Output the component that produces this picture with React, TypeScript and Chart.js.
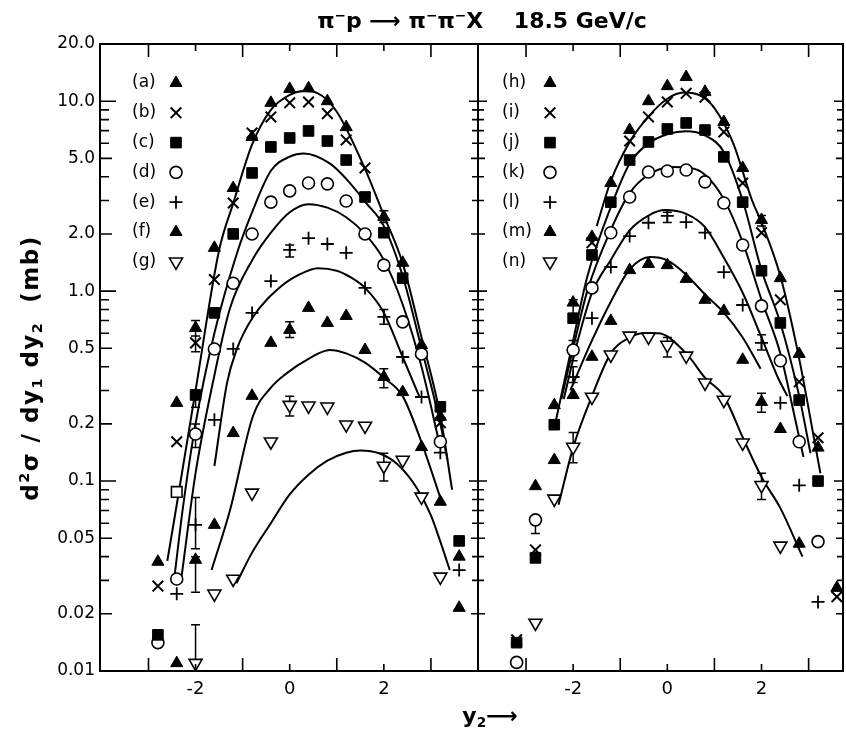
import React, { useEffect, useRef } from "react";
import { Chart, registerables } from "chart.js";
Chart.register(...registerables);

const W = 846;
const H = 732;
const FONT = '"DejaVu Sans", sans-serif';

// ---------- axes ----------
const Y_MIN = 0.01;
const Y_MAX = 20;
const yTickValues = [0.01, 0.02, 0.05, 0.1, 0.2, 0.5, 1, 2, 5, 10, 20];
const yTickLabels = ["0.01", "0.02", "0.05", "0.1", "0.2", "0.5", "1.0", "2.0", "5.0", "10.0", "20.0"];
const xTickValues = [-2, 0, 2];
const xTickLabels = ["-2", "0", "2"];
const xTickMarks = [-3, -2, -1, 0, 1, 2, 3];
const leftRange = [-4.03, 4.0];
const rightRange = [-4.02, 3.73];

// ---------- left panel : measured points ----------
const aX = [-2.8, -2.4, -2.0, -1.6, -1.2, -0.8, -0.4, 0, 0.4, 0.8, 1.2, 2.0, 2.4, 2.8, 3.2, 3.6];
const aY = [0.0376, 0.258, 0.64, 1.69, 3.49, 6.48, 9.8, 11.6, 11.7, 10.0, 7.3, 2.46, 1.41, 0.52, 0.218, 0.04];
const bX = [-2.8, -2.4, -2.0, -1.6, -1.2, -0.8, -0.4, 0, 0.4, 0.8, 1.2, 1.6, 3.2];
const bY = [0.028, 0.161, 0.534, 1.15, 2.91, 6.8, 8.26, 9.8, 9.9, 8.6, 6.25, 4.45, 0.203];
const cX = [-2.8, -2.0, -1.6, -1.2, -0.8, -0.4, 0, 0.4, 0.8, 1.2, 1.6, 2.0, 2.4, 3.2, 3.6];
const cY = [0.0155, 0.284, 0.768, 2.0, 4.19, 5.74, 6.4, 6.97, 6.17, 4.9, 3.13, 2.03, 1.17, 0.246, 0.0484];
const cOpenX = [-2.4];
const cOpenY = [0.0877];
const dX = [-2.8, -2.4, -2.0, -1.6, -1.2, -0.8, -0.4, 0, 0.4, 0.8, 1.2, 1.6, 2.0, 2.4, 2.8, 3.2];
const dY = [0.0141, 0.0305, 0.177, 0.496, 1.1, 2.0, 2.94, 3.37, 3.71, 3.67, 2.98, 2.0, 1.37, 0.689, 0.467, 0.161];
const eX = [-2.4, -2.0, -1.6, -1.2, -0.8, -0.4, 0, 0.4, 0.8, 1.2, 1.6, 2.0, 2.4, 2.8, 3.2, 3.6];
const eY = [0.0255, 0.0588, 0.21, 0.496, 0.768, 1.13, 1.65, 1.9, 1.77, 1.59, 1.04, 0.732, 0.45, 0.277, 0.141, 0.034];
const fX = [-2.4, -2.0, -1.6, -1.2, -0.8, -0.4, 0, 0.4, 0.8, 1.2, 1.6, 2.0, 2.4, 2.8, 3.2, 3.6];
const fY = [0.011, 0.0385, 0.0588, 0.179, 0.281, 0.534, 0.625, 0.816, 0.68, 0.74, 0.49, 0.353, 0.294, 0.151, 0.0778, 0.0215];
const gX = [-2.0, -1.6, -1.2, -0.8, -0.4, 0, 0.4, 0.8, 1.2, 1.6, 2.0, 2.4, 2.8, 3.2];
const gY = [0.011, 0.0255, 0.0305, 0.0867, 0.161, 0.251, 0.249, 0.246, 0.198, 0.195, 0.12, 0.129, 0.0826, 0.0313];

const leftErrX = [-2.0, -2.0, -2.0, -2.0, -2.0, -2.0, -2.0, 0, 0, 0, 2.0, 2.0, 2.0, 2.0];
const leftErrLo = [0.58, 0.48, 0.245, 0.15, 0.044, 0.026, 0.011, 1.51, 0.57, 0.22, 0.67, 0.31, 0.1, 2.3];
const leftErrHi = [0.7, 0.58, 0.3, 0.2, 0.082, 0.04, 0.0175, 1.75, 0.69, 0.28, 0.8, 0.39, 0.14, 2.65];

// ---------- left panel : curves ----------
const LA_X = [-2.6, -2.4, -2.0, -1.5, -1.2, -0.8, -0.4, 0, 0.3, 0.6, 1.0, 1.6, 2.0, 2.4, 2.8, 3.2, 3.45];
const LA_Y = [0.038, 0.075, 0.3, 1.64, 2.9, 5.9, 9.0, 10.8, 11.3, 11.0, 8.8, 4.4, 2.5, 1.4, 0.57, 0.22, 0.09];
const LB_X = [-2.45, -2.27, -2.0, -1.6, -1.1, -0.8, -0.4, 0, 0.3, 0.85, 1.2, 1.63, 2.0, 2.4, 2.8, 3.2, 3.35];
const LB_Y = [0.031, 0.072, 0.2, 0.6, 1.64, 2.6, 4.3, 5.1, 5.3, 4.7, 3.9, 2.9, 2.2, 1.2, 0.5, 0.2, 0.13];
const LC_X = [-2.3, -2.0, -1.6, -1.27, -0.8, -0.42, 0, 0.4, 0.8, 1.2, 1.6, 2.0, 2.4, 2.8, 3.2];
const LC_Y = [0.031, 0.11, 0.36, 0.81, 1.45, 2.0, 2.6, 2.87, 2.75, 2.45, 2.0, 1.46, 0.85, 0.4, 0.15];
const LD_X = [-1.6, -1.33, -1.13, -0.78, -0.2, 0.2, 0.6, 1.0, 1.3, 1.6, 2.0, 2.4, 2.75];
const LD_Y = [0.12, 0.33, 0.49, 0.73, 1.05, 1.22, 1.32, 1.28, 1.18, 1.04, 0.77, 0.45, 0.28];
const LE_X = [-1.66, -1.27, -0.78, -0.4, -0.06, 0.4, 0.85, 1.2, 1.6, 2.0, 2.4, 2.8, 3.25];
const LE_Y = [0.034, 0.07, 0.22, 0.31, 0.37, 0.44, 0.49, 0.47, 0.42, 0.35, 0.28, 0.16, 0.075];
const LF_X = [-1.13, -0.8, -0.4, 0, 0.4, 0.8, 1.2, 1.5, 1.9, 2.3, 2.7, 3.0, 3.2, 3.4];
const LF_Y = [0.029, 0.042, 0.06, 0.085, 0.108, 0.128, 0.141, 0.145, 0.14, 0.122, 0.092, 0.066, 0.048, 0.034];

// ---------- right panel : measured points ----------
const hX = [-2.8, -2.4, -2.0, -1.6, -1.2, -0.8, -0.4, 0, 0.4, 0.8, 1.2, 1.6, 2.0, 2.4, 2.8, 3.2, 3.6];
const hY = [0.094, 0.251, 0.87, 1.93, 3.71, 7.05, 10.0, 12.0, 13.4, 11.2, 7.77, 4.45, 2.37, 1.17, 0.467, 0.15, 0.0274];
const iX = [-3.2, -2.8, -1.6, -0.8, -0.4, 0, 0.4, 0.8, 1.2, 1.6, 2.0, 2.4, 2.8, 3.2, 3.6];
const iY = [0.0146, 0.0434, 1.8, 6.17, 8.26, 9.9, 11.0, 10.5, 6.89, 3.71, 2.03, 0.9, 0.333, 0.169, 0.0246];
const jX = [-3.2, -2.8, -2.4, -2.0, -1.6, -1.2, -0.8, -0.4, 0, 0.4, 0.8, 1.2, 1.6, 2.0, 2.4, 2.8, 3.2];
const jY = [0.0141, 0.0394, 0.198, 0.72, 1.55, 2.94, 4.9, 6.1, 7.14, 7.68, 7.05, 5.09, 2.94, 1.28, 0.68, 0.267, 0.1];
const kX = [-3.2, -2.8, -2.0, -1.6, -1.2, -0.8, -0.4, 0, 0.4, 0.8, 1.2, 1.6, 2.0, 2.4, 2.8, 3.2];
const kY = [0.0111, 0.0625, 0.49, 1.04, 2.03, 3.13, 4.24, 4.29, 4.34, 3.76, 2.91, 1.75, 0.836, 0.43, 0.161, 0.048];
const lX = [-2.0, -1.6, -1.2, -0.8, -0.4, 0, 0.4, 0.8, 1.2, 1.6, 2.0, 2.4, 2.8, 3.2];
const lY = [0.353, 0.72, 1.34, 1.95, 2.29, 2.49, 2.31, 2.03, 1.26, 0.845, 0.534, 0.258, 0.095, 0.0231];
const mX = [-2.4, -2.0, -1.6, -1.2, -0.8, -0.4, 0, 0.4, 0.8, 1.2, 1.6, 2.0, 2.4, 2.8];
const mY = [0.129, 0.284, 0.451, 0.697, 1.29, 1.39, 1.37, 1.16, 0.9, 0.787, 0.435, 0.261, 0.188, 0.0468];
const nX = [-2.8, -2.4, -2.0, -1.6, -1.2, -0.8, -0.4, 0, 0.4, 0.8, 1.2, 1.6, 2.0, 2.4];
const nY = [0.0179, 0.0806, 0.151, 0.277, 0.462, 0.581, 0.574, 0.52, 0.456, 0.329, 0.267, 0.159, 0.095, 0.0456];

const rightErrX = [-2.8, -2.0, -2.0, -2.0, -2.0, 0, 0, 2.0, 2.0, 2.0, 2.0];
const rightErrLo = [0.053, 0.69, 0.43, 0.33, 0.125, 2.3, 0.45, 2.2, 0.49, 0.23, 0.08];
const rightErrHi = [0.063, 0.9, 0.55, 0.4, 0.18, 2.6, 0.57, 2.5, 0.59, 0.29, 0.11];

// ---------- right panel : curves ----------
const RA_X = [-1.5, -1.2, -0.8, -0.42, 0, 0.35, 0.7, 1.0, 1.4, 1.8, 2.0, 2.4, 2.8, 3.15, 3.25];
const RA_Y = [2.2, 3.8, 6.1, 8.2, 10.3, 11.1, 10.7, 9.2, 6.0, 3.0, 2.3, 1.2, 0.44, 0.15, 0.11];
const RB_X = [-2.4, -2.0, -1.7, -1.2, -0.8, -0.4, 0, 0.4, 0.8, 1.2, 1.6, 2.0, 2.4, 2.8, 3.04];
const RB_Y = [0.19, 0.55, 1.19, 2.77, 4.7, 6.0, 6.7, 6.95, 6.6, 5.4, 3.0, 1.29, 0.68, 0.28, 0.14];
const RC_X = [-2.25, -2.0, -1.7, -1.2, -0.8, -0.4, 0.1, 0.5, 0.8, 1.2, 1.6, 2.0, 2.4, 2.7, 2.89];
const RC_Y = [0.27, 0.5, 1.0, 2.1, 3.28, 4.1, 4.5, 4.45, 4.1, 3.05, 1.81, 0.9, 0.47, 0.22, 0.134];
const RD_X = [-2.2, -1.9, -1.6, -1.2, -0.8, -0.4, -0.05, 0.4, 0.8, 1.2, 1.6, 2.0, 2.35, 2.55];
const RD_Y = [0.27, 0.55, 0.98, 1.46, 2.09, 2.5, 2.67, 2.55, 2.17, 1.5, 0.98, 0.57, 0.35, 0.28];
const RE_X = [-2.06, -1.6, -1.2, -0.8, -0.36, 0, 0.4, 0.8, 1.2, 1.6, 1.98];
const RE_Y = [0.3, 0.55, 0.88, 1.3, 1.51, 1.45, 1.22, 0.96, 0.77, 0.57, 0.39];
const RF_X = [-2.31, -2.0, -1.6, -1.2, -0.8, -0.5, -0.2, 0.4, 0.8, 1.2, 1.6, 2.0, 2.4, 2.87];
const RF_Y = [0.075, 0.15, 0.28, 0.47, 0.57, 0.6, 0.6, 0.47, 0.35, 0.28, 0.17, 0.105, 0.072, 0.04];

// ---------- legend text ----------
const leftLegend = ["(a)", "(b)", "(c)", "(d)", "(e)", "(f)", "(g)"];
const rightLegend = ["(h)", "(i)", "(j)", "(k)", "(l)", "(m)", "(n)"];

type Sym = "tri" | "x" | "sq" | "sqOpen" | "circ" | "plus" | "triDown";
const leftSyms: Sym[] = ["tri", "x", "sq", "circ", "plus", "tri", "triDown"];
const rightSyms: Sym[] = ["tri", "x", "sq", "circ", "plus", "tri", "triDown"];

const pts = (xs: number[], ys: number[]) => xs.map((x, i) => ({ x, y: ys[i] }));

function symProps(s: Sym) {
  const common: any = { showLine: false, pointBorderColor: "#000", borderColor: "#000", pointHoverRadius: 0 };
  switch (s) {
    case "tri":
      return { ...common, pointStyle: "triangle", pointRadius: 7, pointRotation: 0, pointBackgroundColor: "#000", pointBorderWidth: 1 };
    case "triDown":
      return { ...common, pointStyle: "triangle", pointRadius: 7.5, pointRotation: 180, pointBackgroundColor: "#fff", pointBorderWidth: 1.6 };
    case "x":
      return { ...common, pointStyle: "crossRot", pointRadius: 7.5, pointBorderWidth: 2 };
    case "plus":
      return { ...common, pointStyle: "cross", pointRadius: 6.5, pointBorderWidth: 1.8 };
    case "sq":
      return { ...common, pointStyle: "rect", pointRadius: 7.5, pointBackgroundColor: "#000", pointBorderWidth: 1 };
    case "sqOpen":
      return { ...common, pointStyle: "rect", pointRadius: 7.5, pointBackgroundColor: "#fff", pointBorderWidth: 1.6 };
    case "circ":
    default:
      return { ...common, pointStyle: "circle", pointRadius: 6, pointBackgroundColor: "#fff", pointBorderWidth: 1.6 };
  }
}

function drawSym(ctx: CanvasRenderingContext2D, s: Sym, x: number, y: number) {
  ctx.save();
  ctx.strokeStyle = "#000";
  ctx.fillStyle = "#000";
  ctx.beginPath();
  if (s === "tri" || s === "triDown") {
    const r = s === "tri" ? 7 : 7.5;
    const off = s === "tri" ? 0 : Math.PI;
    for (let k = 0; k < 3; k++) {
      const a = off + (k * 2 * Math.PI) / 3;
      const px = x + Math.sin(a) * r;
      const py = y - Math.cos(a) * r;
      if (k === 0) ctx.moveTo(px, py);
      else ctx.lineTo(px, py);
    }
    ctx.closePath();
    if (s === "tri") {
      ctx.fill();
      ctx.lineWidth = 1;
    } else {
      ctx.fillStyle = "#fff";
      ctx.fill();
      ctx.lineWidth = 1.6;
    }
    ctx.stroke();
  } else if (s === "x") {
    const d = 7.5 * Math.SQRT1_2;
    ctx.moveTo(x - d, y - d);
    ctx.lineTo(x + d, y + d);
    ctx.moveTo(x + d, y - d);
    ctx.lineTo(x - d, y + d);
    ctx.lineWidth = 2;
    ctx.stroke();
  } else if (s === "plus") {
    ctx.moveTo(x - 6.5, y);
    ctx.lineTo(x + 6.5, y);
    ctx.moveTo(x, y - 6.5);
    ctx.lineTo(x, y + 6.5);
    ctx.lineWidth = 1.8;
    ctx.stroke();
  } else if (s === "sq" || s === "sqOpen") {
    const h = 7.5 * Math.SQRT1_2;
    ctx.rect(x - h, y - h, 2 * h, 2 * h);
    if (s === "sq") ctx.fill();
    ctx.lineWidth = 1;
    ctx.stroke();
  } else {
    ctx.arc(x, y, 6, 0, Math.PI * 2);
    ctx.fillStyle = "#fff";
    ctx.fill();
    ctx.lineWidth = 1.6;
    ctx.stroke();
  }
  ctx.restore();
}

function curve(xs: number[], ys: number[]) {
  return {
    data: pts(xs, ys),
    showLine: true,
    pointRadius: 0,
    pointHoverRadius: 0,
    borderColor: "#000",
    borderWidth: 2,
    cubicInterpolationMode: "monotone",
    fill: false,
  };
}

function makePlugins(side: "left" | "right") {
  const errX = side === "left" ? leftErrX : rightErrX;
  const errLo = side === "left" ? leftErrLo : rightErrLo;
  const errHi = side === "left" ? leftErrHi : rightErrHi;
  const labels = side === "left" ? leftLegend : rightLegend;
  const syms = side === "left" ? leftSyms : rightSyms;
  const textOff = side === "left" ? 32 : 24;
  const symOff = side === "left" ? 76 : 72;

  const errPlugin = {
    id: "errbars-" + side,
    beforeDatasetsDraw(chart: any) {
      const { ctx } = chart;
      const xs = chart.scales.x;
      const ys = chart.scales.y;
      ctx.save();
      ctx.strokeStyle = "#000";
      ctx.lineWidth = 1.5;
      ctx.beginPath();
      errX.forEach((ex, i) => {
        const px = xs.getPixelForValue(ex);
        const p1 = ys.getPixelForValue(errLo[i]);
        const p2 = ys.getPixelForValue(errHi[i]);
        ctx.moveTo(px, p1);
        ctx.lineTo(px, p2);
        ctx.moveTo(px - 4.5, p1);
        ctx.lineTo(px + 4.5, p1);
        ctx.moveTo(px - 4.5, p2);
        ctx.lineTo(px + 4.5, p2);
      });
      ctx.stroke();
      ctx.restore();
    },
  };

  const framePlugin = {
    id: "frame-" + side,
    afterDraw(chart: any) {
      const { ctx, chartArea } = chart;
      const { left, right, top, bottom } = chartArea;
      const xs = chart.scales.x;
      const ys = chart.scales.y;
      ctx.save();
      ctx.strokeStyle = "#000";
      ctx.lineWidth = 2;
      ctx.strokeRect(left, top, right - left, bottom - top);
      ctx.lineWidth = 1.6;
      ctx.beginPath();
      xTickMarks.forEach((v) => {
        const px = xs.getPixelForValue(v);
        const len = Math.abs(v) % 2 === 1 ? 13 : 7;
        ctx.moveTo(px, bottom);
        ctx.lineTo(px, bottom - len);
        ctx.moveTo(px, top);
        ctx.lineTo(px, top + len);
      });
      for (let e = -2; e <= 1; e++) {
        for (let m = 1; m <= 9; m++) {
          const v = m * Math.pow(10, e);
          if (v < Y_MIN * 0.999 || v > Y_MAX * 1.001) continue;
          const py = ys.getPixelForValue(v);
          const kind = m === 1 ? 0 : m === 2 || m === 5 ? 1 : 2;
          const lenL = side === "left" ? [16, 12, 9][kind] : [9, 7, 6][kind];
          const lenR = [9, 7, 6][kind];
          ctx.moveTo(left, py);
          ctx.lineTo(left + lenL, py);
          ctx.moveTo(right, py);
          ctx.lineTo(right - lenR, py);
        }
      }
      ctx.stroke();
      ctx.fillStyle = "#000";
      ctx.font = "17px " + FONT;
      ctx.textAlign = "left";
      ctx.textBaseline = "middle";
      labels.forEach((lab, i) => {
        const yy = top + 39 + i * 29.8;
        ctx.fillText(lab, left + textOff, yy);
        drawSym(ctx, syms[i], left + symOff, yy);
      });
      ctx.restore();
    },
  };
  return [errPlugin, framePlugin];
}

function buildConfig(side: "left" | "right"): any {
  const isLeft = side === "left";
  const datasets: any[] = isLeft
    ? [
        { data: pts(aX, aY), ...symProps("tri") },
        { data: pts(bX, bY), ...symProps("x") },
        { data: pts(cX, cY), ...symProps("sq") },
        { data: pts(cOpenX, cOpenY), ...symProps("sqOpen") },
        { data: pts(dX, dY), ...symProps("circ") },
        { data: pts(eX, eY), ...symProps("plus") },
        { data: pts(fX, fY), ...symProps("tri") },
        { data: pts(gX, gY), ...symProps("triDown") },
        curve(LA_X, LA_Y),
        curve(LB_X, LB_Y),
        curve(LC_X, LC_Y),
        curve(LD_X, LD_Y),
        curve(LE_X, LE_Y),
        curve(LF_X, LF_Y),
      ]
    : [
        { data: pts(hX, hY), ...symProps("tri") },
        { data: pts(iX, iY), ...symProps("x") },
        { data: pts(jX, jY), ...symProps("sq") },
        { data: pts(kX, kY), ...symProps("circ") },
        { data: pts(lX, lY), ...symProps("plus") },
        { data: pts(mX, mY), ...symProps("tri") },
        { data: pts(nX, nY), ...symProps("triDown") },
        curve(RA_X, RA_Y),
        curve(RB_X, RB_Y),
        curve(RC_X, RC_Y),
        curve(RD_X, RD_Y),
        curve(RE_X, RE_Y),
        curve(RF_X, RF_Y),
      ];
  const range = isLeft ? leftRange : rightRange;
  return {
    type: "scatter",
    data: { datasets },
    options: {
      animation: false,
      responsive: false,
      events: [],
      layout: { autoPadding: false, padding: { top: 44, bottom: 0, left: 0, right: isLeft ? 1 : 3 } },
      plugins: { legend: { display: false }, tooltip: { enabled: false }, title: { display: false } },
      scales: {
        x: {
          type: "linear",
          min: range[0],
          max: range[1],
          bounds: "data",
          grid: { display: false, drawTicks: false },
          border: { display: false },
          ticks: {
            color: "#000",
            font: { size: 18, family: FONT },
            padding: 8,
            autoSkip: false,
            maxRotation: 0,
            callback: (v: number) => {
              const i = xTickValues.indexOf(v);
              return i >= 0 ? xTickLabels[i] : "";
            },
          },
          afterBuildTicks: (s: any) => {
            s.ticks = xTickValues.map((v) => ({ value: v }));
          },
          afterFit: (s: any) => {
            s.height = 61;
            s.paddingLeft = 0;
            s.paddingRight = 0;
          },
        },
        y: {
          type: "logarithmic",
          min: Y_MIN,
          max: Y_MAX,
          bounds: "data",
          display: isLeft,
          grid: { display: false, drawTicks: false },
          border: { display: false },
          ticks: {
            color: "#000",
            font: { size: 17, family: FONT },
            padding: 5,
            autoSkip: false,
            callback: (v: number) => {
              const i = yTickValues.findIndex((t) => Math.abs(t - v) < t * 1e-6);
              return i >= 0 ? yTickLabels[i] : "";
            },
          },
          afterBuildTicks: (s: any) => {
            s.ticks = yTickValues.map((v) => ({ value: v }));
          },
          afterFit: (s: any) => {
            s.width = isLeft ? 100 : 0;
            s.paddingTop = 0;
            s.paddingBottom = 0;
          },
        },
      },
    },
    plugins: makePlugins(side),
  };
}

const Sup = ({ children }: { children: any }) => (
  <span style={{ fontSize: "0.62em", position: "relative", top: "-0.6em" }}>{children}</span>
);
const Sub = ({ children }: { children: any }) => (
  <span style={{ fontSize: "0.62em", position: "relative", top: "0.3em" }}>{children}</span>
);

export default function App() {
  const leftRef = useRef<HTMLCanvasElement>(null);
  const rightRef = useRef<HTMLCanvasElement>(null);
  useEffect(() => {
    document.body.style.margin = "0";
    Chart.defaults.font.family = FONT;
    const c1 = new Chart(leftRef.current as HTMLCanvasElement, buildConfig("left"));
    const c2 = new Chart(rightRef.current as HTMLCanvasElement, buildConfig("right"));
    return () => {
      c1.destroy();
      c2.destroy();
    };
  }, []);
  return (
    <div
      style={{
        position: "relative",
        width: W,
        height: H,
        background: "#fff",
        color: "#000",
        fontFamily: FONT,
        overflow: "hidden",
      }}
    >
      <canvas ref={leftRef} width={479} height={732} style={{ position: "absolute", left: 0, top: 0, width: 479, height: 732 }} />
      <canvas ref={rightRef} width={368} height={732} style={{ position: "absolute", left: 478, top: 0, width: 368, height: 732 }} />
      <div
        style={{
          position: "absolute",
          left: 262,
          top: 7,
          width: 440,
          textAlign: "center",
          fontSize: 22,
          fontWeight: "bold",
          lineHeight: "28px",
          whiteSpace: "pre",
        }}
      >
        π<Sup>−</Sup>p ⟶ π<Sup>−</Sup>π<Sup>−</Sup>X{"    "}18.5 GeV/c
      </div>
      <div
        style={{
          position: "absolute",
          left: 30 - 170,
          top: 368 - 15,
          width: 340,
          height: 30,
          lineHeight: "30px",
          textAlign: "center",
          transform: "rotate(-90deg)",
          fontWeight: "bold",
          fontSize: 23,
          letterSpacing: "1.5px",
          whiteSpace: "pre",
        }}
      >
        d<Sup>2</Sup>σ / dy<Sub>1</Sub> dy<Sub>2</Sub>{"  "}(mb)
      </div>
      <div
        style={{
          position: "absolute",
          left: 430,
          top: 702,
          width: 120,
          textAlign: "center",
          fontWeight: "bold",
          fontSize: 22,
          lineHeight: "28px",
          whiteSpace: "pre",
        }}
      >
        y<Sub>2</Sub>⟶
      </div>
    </div>
  );
}
